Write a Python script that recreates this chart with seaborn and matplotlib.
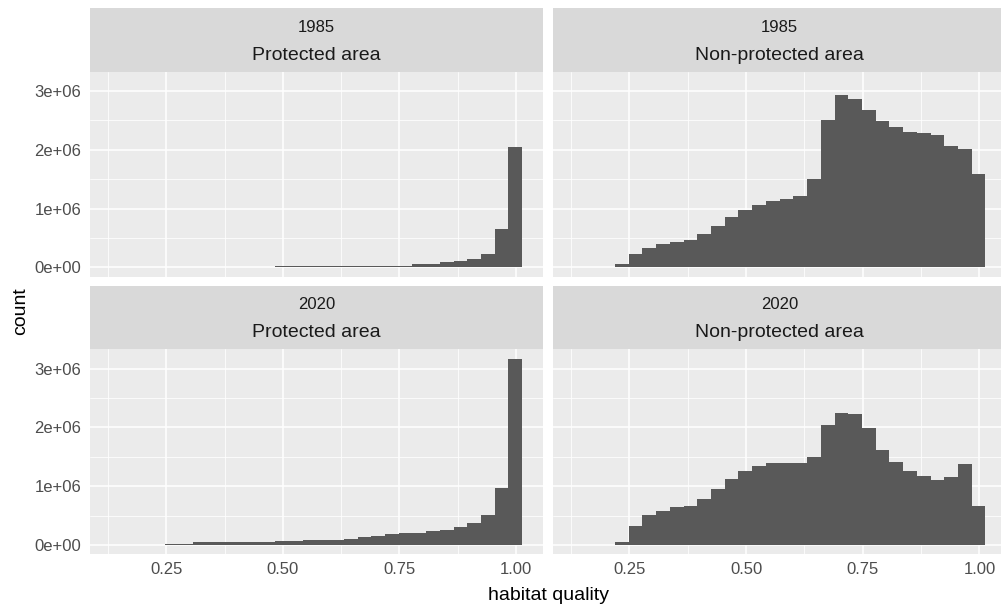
import numpy as np
import pandas as pd
import matplotlib
matplotlib.use("Agg")
import matplotlib.pyplot as plt
import seaborn as sns
from matplotlib.ticker import FixedLocator, FuncFormatter

# ---------------- data ----------------
bin_start = 0.1308
bin_width = 0.0294
n_bins = 30

# counts per bin, in millions of pixels
prot_1985 = [0, 0, 0, 0, 0, 0, 0, 0, 0, 0, 0, 0,
             0.02, 0.02, 0.02, 0.02, 0.02, 0.02, 0.02,
             0.03, 0.03, 0.03, 0.06, 0.06,
             0.09, 0.11, 0.135, 0.22, 0.66, 2.04]
nonprot_1985 = [0, 0, 0,
                0.063, 0.22, 0.33, 0.39, 0.43, 0.46, 0.57, 0.71, 0.85, 0.97,
                1.06, 1.13, 1.17, 1.22, 1.50, 2.50, 2.94, 2.87, 2.68, 2.49,
                2.38, 2.31, 2.29, 2.25, 2.06, 2.01, 1.59]
prot_2020 = [0, 0, 0, 0,
             0.023, 0.023, 0.046, 0.046, 0.046, 0.046, 0.046, 0.046,
             0.07, 0.07, 0.087, 0.087, 0.087,
             0.11, 0.133, 0.16, 0.185, 0.20, 0.20, 0.23, 0.254, 0.30,
             0.376, 0.51, 0.97, 3.17]
nonprot_2020 = [0, 0, 0,
                0.057, 0.32, 0.51, 0.57, 0.65, 0.67, 0.78, 0.95, 1.13, 1.25,
                1.34, 1.39, 1.39, 1.39, 1.50, 2.04, 2.25, 2.22, 1.99, 1.62,
                1.41, 1.25, 1.18, 1.11, 1.15, 1.37, 0.67]

years = ["1985", "2020"]
areas = ["Protected area", "Non-protected area"]
series = {("1985", "Protected area"): prot_1985,
          ("1985", "Non-protected area"): nonprot_1985,
          ("2020", "Protected area"): prot_2020,
          ("2020", "Non-protected area"): nonprot_2020}

x_ticks = [0.25, 0.50, 0.75, 1.00]
x_tick_labels = ["0.25", "0.50", "0.75", "1.00"]
y_ticks = [0, 1e6, 2e6, 3e6]

edges = bin_start + bin_width * np.arange(n_bins + 1)
centers = (edges[:-1] + edges[1:]) / 2

rows = []
for (yr, ar), vals in series.items():
    for c, v in zip(centers, vals):
        rows.append({"year": yr, "area": ar, "habitat quality": float(c),
                     "count": v * 1e6})
df = pd.DataFrame(rows)

# ---------------- style ----------------
sns.set_style("white")
plt.rcParams["font.family"] = ["Liberation Sans", "DejaVu Sans"]

W, H = 1001, 612
fig = plt.figure(figsize=(W / 100, H / 100), dpi=100)

def fx(px):
    return px / W

panel_x = [(90, 542.7), (553.3, 1006)]
panel_y = [(71.7, 276.7), (349.3, 554.3)]
strip_y = [(8.3, 71.7), (286, 349.3)]

xmin, xmax = edges[0], edges[-1]
xr = xmax - xmin
xlim = (xmin - 0.05 * xr, xmax + 0.05 * xr)
ymax = df["count"].max()
ylim = (-0.05 * ymax, 1.05 * ymax)

x_minor = [0.125, 0.375, 0.625, 0.875]
y_minor = [0.5e6, 1.5e6, 2.5e6]

def sci(v, pos=None):
    return "{:.0e}".format(v)

bin_list = [float(e) for e in edges]

for r, yr in enumerate(years):
    for c, ar in enumerate(areas):
        x0, x1 = panel_x[c]
        y0, y1 = panel_y[r]
        ax = fig.add_axes([fx(x0), 1 - y1 / H, fx(x1 - x0), (y1 - y0) / H])
        ax.set_facecolor("#EBEBEB")
        sub = df[(df["year"] == yr) & (df["area"] == ar)]
        sns.histplot(data=sub, x="habitat quality", weights="count",
                     bins=bin_list, ax=ax, color="#595959", alpha=1,
                     edgecolor="none", linewidth=0)
        ax.set_xlim(*xlim)
        ax.set_ylim(*ylim)
        ax.xaxis.set_major_locator(FixedLocator(x_ticks))
        ax.xaxis.set_minor_locator(FixedLocator(x_minor))
        ax.yaxis.set_major_locator(FixedLocator(y_ticks))
        ax.yaxis.set_minor_locator(FixedLocator(y_minor))
        ax.set_axisbelow(True)
        ax.grid(which="major", color="white", linewidth=1.1)
        ax.grid(which="minor", color="white", linewidth=0.55)
        for s in ax.spines.values():
            s.set_visible(False)
        ax.set_xlabel("")
        ax.set_ylabel("")
        ax.tick_params(which="minor", length=0)
        ax.tick_params(which="major", length=3.2, width=0.8, color="#333333",
                       labelsize=12, labelcolor="#4D4D4D")
        ax.tick_params(axis="y", pad=3.0)
        ax.tick_params(axis="x", pad=2.5)
        if r == 1:
            ax.set_xticklabels(x_tick_labels)
        else:
            ax.tick_params(axis="x", length=0, labelbottom=False)
        if c == 0:
            ax.yaxis.set_major_formatter(FuncFormatter(sci))
        else:
            ax.tick_params(axis="y", length=0, labelleft=False)

        # strip
        sy0, sy1 = strip_y[r]
        sax = fig.add_axes([fx(x0), 1 - sy1 / H, fx(x1 - x0), (sy1 - sy0) / H])
        sax.set_facecolor("#D9D9D9")
        sax.set_xticks([])
        sax.set_yticks([])
        for s in sax.spines.values():
            s.set_visible(False)
        sax.text(0.5, 0.70, yr, ha="center", va="center", fontsize=12,
                 color="#1A1A1A", transform=sax.transAxes)
        sax.text(0.5, 0.26, ar, ha="center", va="center", fontsize=14,
                 color="#1A1A1A", transform=sax.transAxes)

fig.text(fx(548), 1 - 595.7 / H, "habitat quality", ha="center", va="center",
         fontsize=14, color="black")
fig.text(fx(21), 1 - 311 / H, "count", ha="center", va="center", rotation=90,
         fontsize=14, color="black")

fig.savefig("out.png", dpi=100, facecolor="white")
